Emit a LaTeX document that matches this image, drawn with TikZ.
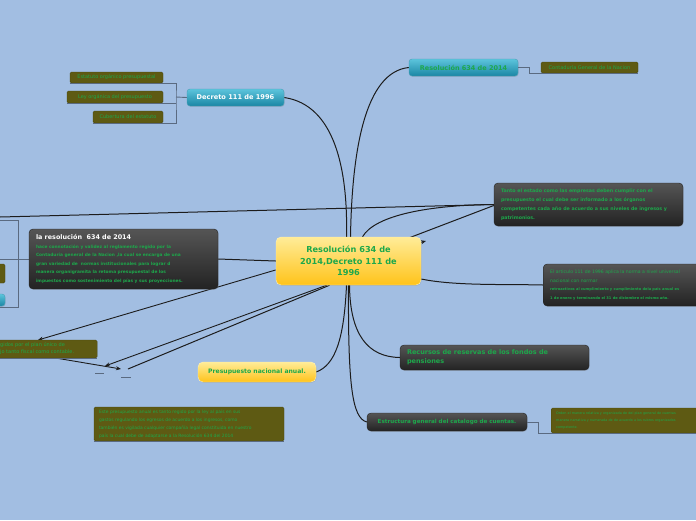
\documentclass[tikz,border=0pt]{standalone}
\usepackage{fontspec}
\setmainfont{DejaVu Sans}
\usetikzlibrary{arrows.meta,shadows,calc}
\definecolor{bg}{HTML}{A2BEE2}
\definecolor{txtg}{HTML}{1DA84B}
\definecolor{oliv}{HTML}{5E5A13}
\definecolor{olivd}{HTML}{4B480F}
\definecolor{dk1}{HTML}{555555}
\definecolor{dk2}{HTML}{232323}
\definecolor{tl1}{HTML}{5CC4DC}
\definecolor{tl2}{HTML}{1B86A4}
\definecolor{yl1}{HTML}{FFEC98}
\definecolor{yl2}{HTML}{FFC31A}
\definecolor{brkc}{HTML}{5A6A80}
\definecolor{conn}{HTML}{1C1C1C}
\newcommand{\fsz}[2]{\fontsize{#1}{#2}\selectfont}
\tikzset{
  darkbox/.style={rounded corners=4pt, top color=dk1, bottom color=dk2, draw=dk2, inner sep=0pt,
    drop shadow={shadow xshift=0.6pt, shadow yshift=-0.8pt, opacity=0.3}},
  tealbox/.style={rounded corners=3pt, top color=tl1, bottom color=tl2, draw=tl2!80!white, inner sep=0pt,
    drop shadow={shadow xshift=0.6pt, shadow yshift=-0.8pt, opacity=0.25}},
  yelbox/.style={rounded corners=5pt, top color=yl1, bottom color=yl2, draw=yl1!70!white, inner sep=0pt,
    drop shadow={shadow xshift=0.6pt, shadow yshift=-0.8pt, opacity=0.25}},
  olivbox/.style={rounded corners=1.5pt, fill=oliv, draw=olivd, inner sep=0pt, text=txtg},
  brk/.style={draw=brkc, line width=0.9pt},
  cn/.style={draw=conn, line width=1pt},
  arr/.style={draw=conn, line width=0.9pt, -{Stealth[length=5pt,width=4pt]}},
}
\begin{document}
\begin{tikzpicture}[x=1pt,y=-1pt]
\useasboundingbox (0,0) rectangle (696,520);
\clip (0,0) rectangle (696,520);
\fill[bg] (0,0) rectangle (696,520);

% coordinates
\coordinate (bx) at (176,97);
\coordinate (lt) at (0,217);
\coordinate (ta) at (38,340);
\coordinate (tb) at (105,366);
\coordinate (tc) at (128,369);
\coordinate (td) at (121,369);
\coordinate (te) at (426,241);

% ---------- node placeholders ----------
\path (348.5,261) node[minimum width=145pt, minimum height=48pt] (c) {};
\path (235.5,97.5) node[minimum width=97pt, minimum height=17pt] (d111) {};
\path (463.5,67.5) node[minimum width=109pt, minimum height=17pt] (r634) {};
\path (588.5,204.5) node[minimum width=189pt, minimum height=43pt] (tanto) {};
\path (123.5,259) node[minimum width=189pt, minimum height=60pt] (lares) {};
\path (543,285) node[anchor=west, minimum width=200pt, minimum height=42pt] (art) {};
\path (494.5,357.5) node[minimum width=189pt, minimum height=25pt] (rec) {};
\path (447,422) node[minimum width=160pt, minimum height=18pt] (est) {};
\path (257,372) node[minimum width=118pt, minimum height=20pt] (pna) {};
\path (-2,349) node[anchor=west, minimum width=99pt, minimum height=18pt] (lfo) {};

% ---------- connectors ----------
\draw[cn] (lt) -- (tanto.west);
\draw[cn] (c.north) ++(-2,0) .. controls (348,170) and (335,105) .. (d111.east);
\draw[cn] (c.north) ++(2,0) .. controls (352,150) and (365,72) .. (r634.west);
\draw[cn] (c.north) ++(14,0) .. controls (375,215) and (430,205) .. (tanto.west);
\draw[cn] (c.center) -- ($(tanto.west)+(0,1)$);
\draw[arr] (c.center) -- (te);
\draw[cn] (c.east) ++(0,18) .. controls (455,286) and (505,284) .. (art.west);
\draw[cn] (c.south) ++(1,0) .. controls (350,335) and (368,357) .. (rec.west);
\draw[cn] (c.south) .. controls (348,385) and (352,418) .. (est.west);
\draw[cn] (c.south) ++(-2,0) .. controls (344,340) and (335,365) .. (pna.east);
\draw[cn] (lares.east) -- (c.west);
\draw[arr] (c.187) -- (ta);
\draw[arr] (c.228) -- (tb);
\draw[cn] (c.232) -- (tc);
\draw[arr] ($(lfo.south)+(9,0)$) -- (td);
\draw[brkc, line width=1pt] (95,373) -- (104,373);
\draw[brkc, line width=1pt] (121,377) -- (131,377);

% bracket for Decreto 111
\draw[brk] (d111.west) -- (bx);
% left bracket
\draw[brk] (lares.west) -- (0,259);
\draw[brk] (0,220) -- (18,220) -- (18,307) -- (0,307);

% ---------- boxes ----------
\node[yelbox, minimum width=145pt, minimum height=48pt, text=txtg, align=center,
  font=\bfseries\fsz{8.2}{11.5}] at (c) {Resolución 634 de\\2014,Decreto 111 de\\1996};

\node[tealbox, minimum width=97pt, minimum height=17pt, text=white, font=\bfseries\fsz{6.6}{8}] at (d111) {Decreto 111 de 1996};
\node[olivbox, minimum width=93pt, minimum height=11pt, font=\fsz{5}{6}] (e1) at (116.5,77.5) {Estatuto orgánico presupuestal};
\node[olivbox, minimum width=96pt, minimum height=12pt, font=\fsz{5}{6}] (e2) at (115,97) {Ley orgánica del presupuesto};
\node[olivbox, minimum width=70pt, minimum height=12pt, font=\fsz{5}{6}] (e3) at (128,117) {Cubertura del estatuto};
\draw[brk] (e1.south west) -- (e1.south east) -| (bx) |- (e3.south east) -- (e3.south west);
\draw[brk] (e2.south west) -- (e2.south east) -- (e2.south east -| bx);

\node[tealbox, minimum width=109pt, minimum height=17pt, text=txtg, font=\bfseries\fsz{6.5}{8}] at (r634) {Resolución 634 de 2014};
\node[olivbox, minimum width=97pt, minimum height=11pt, font=\fsz{5}{6}] (cgn) at (589.5,67.5) {Contaduría General de la Nacion};
\draw[brk] (r634.east) -- ++(11,0) |- (cgn.south west) -- (cgn.south east);

\node[darkbox, minimum width=189pt, minimum height=43pt, text=txtg, align=flush left, text width=175pt,
  font=\bfseries\fsz{4.75}{8.8}] at (tanto) {Tanto el estado como las empresas deben cumplir con el\\presupuesto el cual debe ser informado a los órganos\\competentes cada año de acuerdo a sus niveles de ingresos y\\patrimonios.};

\node[darkbox, minimum width=189pt, minimum height=60pt, align=flush left, text width=175pt,
  font=\bfseries\fsz{4.35}{8.5}] at (lares)
  {\color{white}\fsz{6.4}{8.5}la resolución~ 634 de 2014\\
   \color{txtg}\fsz{4.35}{8.5}hace connotación y validez al reglamento regido por la\\Contaduría general de la Nacion ,la cual se encarga de una\\gran variedad de~ normas institucionales para lograr d\\manera organigramita la retoma presupuestal de los\\impuestos como sostenimiento del pías y sus proyecciones.};

\node[darkbox, anchor=west, minimum width=200pt, minimum height=42pt, align=flush left, text width=186pt,
  text=txtg, font=\bfseries\fsz{3.6}{8.6}] at (art.west)
  {\mdseries\fsz{4.6}{8.6}El articulo 111 de 1996 aplica la norma a nivel universal\\nacional con normar\\
   \bfseries\fsz{3.6}{8.6}retroactivos al cumplimiento y cumplimiento dela pais anual es\\1 de enero y terminando el 31 de diciembre el mismo año.};

\node[darkbox, minimum width=189pt, minimum height=25pt, text=txtg, align=flush left, text width=175pt,
  font=\bfseries\fsz{6.5}{9}] at (rec) {Recursos de reservas de los fondos de\\pensiones};

\node[darkbox, minimum width=160pt, minimum height=18pt, text=txtg, font=\bfseries\fsz{5.6}{7}] at (est) {Estructura general del catalogo de cuentas.};
\node[olivbox, anchor=west, minimum width=160pt, minimum height=25pt, align=flush left, text width=150pt,
  font=\fsz{3.4}{6.8}] (estc) at (551,420.5) {Orden el manera relativa y organizada de del plan general de cuentas\\manera narrativa y numerada de de acuerdo a los rubros organizados\\competente.};
\draw[brk] (est.east) -- ++(11,0) |- (estc.south west) -- (estc.south east);

\node[yelbox, minimum width=118pt, minimum height=20pt, text=txtg, font=\bfseries\fsz{6.1}{7}] at (pna) {Presupuesto nacional anual.};

\node[olivbox, minimum width=190pt, minimum height=34pt, align=flush left, text width=180pt,
  font=\fsz{4.45}{7.8}] (este) at (189,424) {Este presupuesto anual es tanto regido por la ley al país en sus\\gastos regulando los egresos de acuerdo a los ingresos, como\\también es vigilada cualquier compañía legal constituida en nuestro\\país la cual debe de adaptarse a la Resolución 634 del 2014};
\draw[brk] (este.south west) -- (este.south east);

\node[olivbox, anchor=west, minimum width=99pt, minimum height=18pt, align=flush left, text width=95pt,
  font=\fsz{5}{7}] at (lfo.west) {gidos por el plan único de\\jo tanto fiscal como contable.};
\draw[brk] (lfo.south west) -- (lfo.south east);

\node[olivbox, minimum width=10pt, minimum height=19pt] (lo1) at (0,273.5) {};
\node[tealbox, minimum width=10pt, minimum height=12pt] (lt1) at (0,300) {};
\end{tikzpicture}
\end{document}
